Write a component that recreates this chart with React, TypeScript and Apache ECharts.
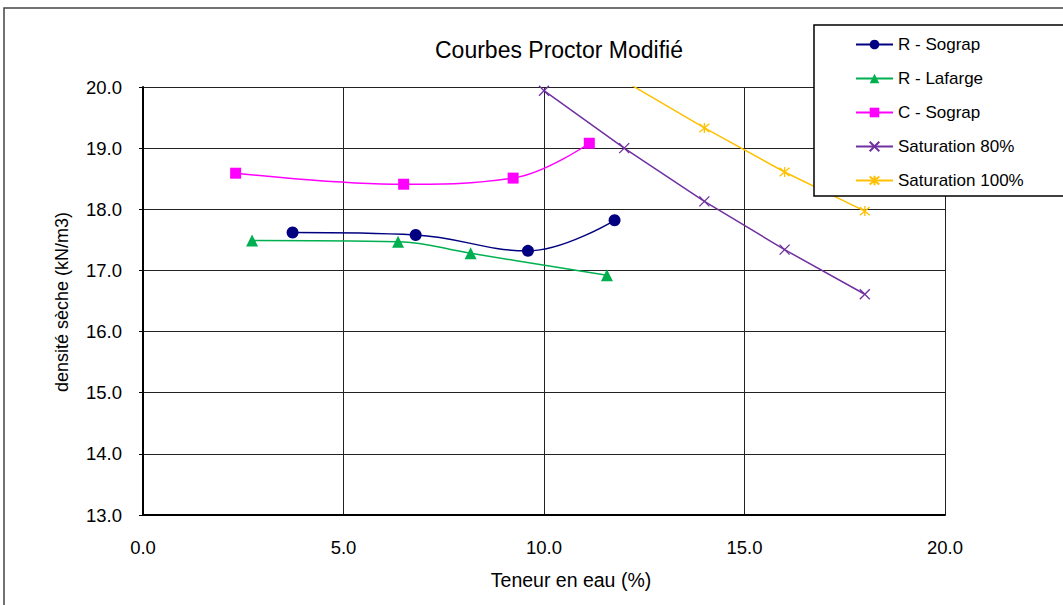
import React, { useEffect, useRef } from "react";
import * as echarts from "echarts";

const rSograpX = [3.73, 6.8, 9.6, 11.76];
const rSograpY = [17.62, 17.58, 17.32, 17.82];
const rLafargeX = [2.72, 6.36, 8.17, 11.57];
const rLafargeY = [17.49, 17.47, 17.28, 16.92];
const cSograpX = [2.31, 6.5, 9.23, 11.13];
const cSograpY = [18.59, 18.41, 18.51, 19.08];
const sat80X = [10, 12, 14, 16, 18];
const sat80Y = [19.94, 19.0, 18.13, 17.34, 16.61];
const sat100X = [12, 14, 16, 18];
const sat100Y = [20.1, 19.33, 18.61, 17.97];

const seriesNames = ["R - Sograp", "R - Lafarge", "C - Sograp", "Saturation 80%", "Saturation 100%"];
const FONT = "'Liberation Sans', Arial, sans-serif";

const zip = (xs: number[], ys: number[]) => xs.map((x, i) => [x, ys[i]]);

export default function App() {
  const ref = useRef<HTMLDivElement>(null);
  useEffect(() => {
    if (!ref.current) return;
    const chart = echarts.init(ref.current, undefined, { renderer: "svg" });
    const crossPath = "path://M0,0L10,10M10,0L0,10";
    const starPath = "path://M0,0L10,10M10,0L0,10M5,-1L5,11";
    chart.setOption({
      animation: false,
      backgroundColor: "#fff",
      title: {
        text: "Courbes Proctor Modifié",
        left: 554,
        top: 33,
        textAlign: "center",
        textStyle: { fontFamily: FONT, fontSize: 23, fontWeight: "normal", color: "#000" },
      },
      grid: { left: 143, right: 118, top: 87, bottom: 90 },
      legend: {
        orient: "vertical",
        left: 814,
        top: 25,
        padding: [11, 200, 7, 41],
        itemGap: 17,
        itemWidth: 37,
        itemHeight: 12,
        backgroundColor: "#fff",
        borderColor: "#000",
        borderWidth: 1.5,
        textStyle: { fontFamily: FONT, fontSize: 17, color: "#000", lineHeight: 17 },
        data: seriesNames,
      },
      xAxis: {
        type: "value",
        min: 0,
        max: 20,
        interval: 5,
        axisLine: { show: true, onZero: false, lineStyle: { color: "#000", width: 2 } },
        axisTick: { show: false },
        axisLabel: {
          margin: 23,
          fontFamily: FONT,
          fontSize: 18.5,
          color: "#000",
          formatter: (v: number) => v.toFixed(1),
        },
        splitLine: { show: true, lineStyle: { color: "#222", width: 1 } },
      },
      yAxis: {
        type: "value",
        min: 13,
        max: 20,
        interval: 1,
        axisLine: { show: true, onZero: false, lineStyle: { color: "#000", width: 2 } },
        axisTick: { show: true, length: 4, lineStyle: { color: "#000" } },
        axisLabel: {
          margin: 21,
          fontFamily: FONT,
          fontSize: 18.5,
          color: "#000",
          formatter: (v: number) => v.toFixed(1),
        },
        splitLine: { show: true, lineStyle: { color: "#222", width: 1 } },
      },
      graphic: [
        {
          type: "rect",
          shape: { x: 4, y: 8, width: 1200, height: 800 },
          style: { fill: "none", stroke: "#444", lineWidth: 1.5 },
          z: -1,
          silent: true,
        },
        {
          type: "text",
          x: 571,
          y: 580,
          style: {
            text: "Teneur en eau (%)",
            fontFamily: FONT,
            fontSize: 19.5,
            fill: "#000",
            textAlign: "center",
            textVerticalAlign: "middle",
          },
        },
        {
          type: "text",
          x: 62,
          y: 302,
          rotation: Math.PI / 2,
          style: {
            text: "densité sèche (kN/m3)",
            fontFamily: FONT,
            fontSize: 18,
            fill: "#000",
            textAlign: "center",
            textVerticalAlign: "middle",
          },
        },
      ],
      series: [
        {
          name: seriesNames[0],
          type: "line",
          data: zip(rSograpX, rSograpY),
          smooth: 0.4,
          symbol: "circle",
          symbolSize: 12,
          itemStyle: { color: "#000080" },
          lineStyle: { color: "#000080", width: 1.5 },
        },
        {
          name: seriesNames[1],
          type: "line",
          data: zip(rLafargeX, rLafargeY),
          smooth: 0.4,
          symbol: "triangle",
          symbolSize: 12,
          itemStyle: { color: "#00B050" },
          lineStyle: { color: "#00B050", width: 1.5 },
        },
        {
          name: seriesNames[2],
          type: "line",
          data: zip(cSograpX, cSograpY),
          smooth: 0.4,
          symbol: "rect",
          symbolSize: 11,
          itemStyle: { color: "#FF00FF" },
          lineStyle: { color: "#FF00FF", width: 1.5 },
        },
        {
          name: seriesNames[3],
          type: "line",
          data: zip(sat80X, sat80Y),
          symbol: crossPath,
          symbolSize: 10,
          itemStyle: { color: "#7030A0", borderColor: "#7030A0", borderWidth: 1.3 },
          lineStyle: { color: "#7030A0", width: 1.5 },
        },
        {
          name: seriesNames[4],
          type: "line",
          data: zip(sat100X, sat100Y),
          symbol: starPath,
          symbolSize: 10,
          itemStyle: { color: "#FFC000", borderColor: "#FFC000", borderWidth: 1.3 },
          lineStyle: { color: "#FFC000", width: 1.5 },
        },
      ],
    });
    return () => chart.dispose();
  }, []);
  return (
    <div
      ref={ref}
      style={{ position: "absolute", left: 0, top: 0, width: 1063, height: 605 }}
    />
  );
}
